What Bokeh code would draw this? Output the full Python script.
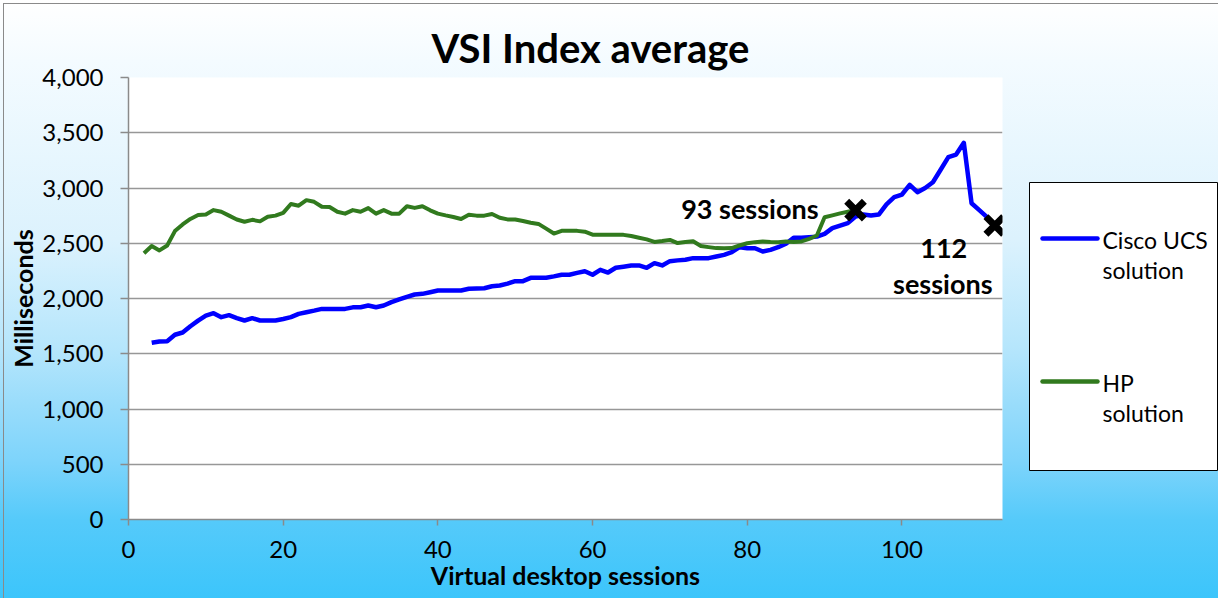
from bokeh.plotting import figure
from bokeh.models import Range1d, NumeralTickFormatter, FixedTicker, Row
from bokeh.embed import file_html
from bokeh.resources import INLINE
from bokeh.core.properties import value

# ---------------- data ----------------
hp_sessions = list(range(2, 95))
hp_ms = [2410, 2475, 2435, 2480, 2610, 2670, 2720, 2755, 2760, 2800,
         2785, 2750, 2715, 2695, 2712, 2698, 2740, 2750, 2775, 2855,
         2840, 2890, 2875, 2830, 2828, 2785, 2768, 2800, 2785, 2818,
         2768, 2800, 2768, 2768, 2835, 2820, 2835, 2798, 2768, 2752,
         2738, 2720, 2758, 2750, 2750, 2765, 2730, 2716, 2715, 2702,
         2686, 2675, 2632, 2588, 2612, 2614, 2612, 2605, 2578, 2576,
         2576, 2576, 2576, 2565, 2550, 2535, 2512, 2520, 2530, 2502,
         2512, 2518, 2475, 2465, 2456, 2455, 2456, 2480, 2500, 2510,
         2516, 2512, 2510, 2515, 2512, 2516, 2540, 2570, 2735, 2752,
         2770, 2785, 2800]

cisco_sessions = list(range(3, 113))
cisco_ms = [1599, 1611, 1614, 1672, 1692, 1749, 1800, 1845, 1867, 1831,
            1849, 1822, 1801, 1822, 1801, 1801, 1801, 1815, 1831, 1861,
            1876, 1890, 1906, 1906, 1906, 1906, 1920, 1921, 1937, 1921,
            1937, 1967, 1991, 2015, 2036, 2042, 2057, 2072, 2072, 2072,
            2072, 2088, 2090, 2093, 2111, 2118, 2135, 2157, 2157, 2187,
            2187, 2187, 2200, 2215, 2215, 2232, 2247, 2215, 2260, 2235,
            2278, 2288, 2299, 2299, 2278, 2320, 2299, 2338, 2345, 2350,
            2365, 2365, 2365, 2380, 2395, 2419, 2464, 2455, 2455, 2425,
            2440, 2464, 2495, 2549, 2549, 2555, 2560, 2585, 2637, 2660,
            2682, 2742, 2760, 2751, 2760, 2851, 2917, 2941, 3029, 2962,
            3000, 3052, 3165, 3279, 3303, 3409, 2862, 2800, 2736, 2661]

series_names = ["Cisco UCS solution", "HP solution"]
x_ticks = [0, 20, 40, 60, 80, 100]
y_ticks = [0, 500, 1000, 1500, 2000, 2500, 3000, 3500, 4000]
marker_sessions = [hp_sessions[-1], cisco_sessions[-1]]
marker_ms = [hp_ms[-1], cisco_ms[-1]]

BLUE = "#0000ff"
GREEN = "#317a1e"
FONT = "Lato"
GRAY = "#8a8a8a"

# ---------------- main figure ----------------
p = figure(width=1010, height=598, output_backend="svg", toolbar_location=None,
           x_range=Range1d(0, 113), y_range=Range1d(0, 4000),
           min_border_left=128, min_border_right=8, min_border_top=77, min_border_bottom=79,
           frame_align=False)
p.border_fill_alpha = 0
p.background_fill_color = "white"
p.outline_line_color = None

p.title.text = "VSI Index average"
p.title.align = "left"
p.title.offset = 303
p.title.text_font = FONT
p.title.text_font_style = "bold"
p.title.text_font_size = "40px"
p.title.text_color = "black"
p.title.standoff = 12

p.xaxis.ticker = FixedTicker(ticks=x_ticks)
p.yaxis.ticker = FixedTicker(ticks=y_ticks)
p.yaxis.formatter = NumeralTickFormatter(format="0,0")
for ax in (p.xaxis, p.yaxis):
    ax.axis_line_color = GRAY
    ax.axis_line_width = 1.5
    ax.major_tick_line_color = GRAY
    ax.major_tick_line_width = 1.5
    ax.major_tick_in = 0
    ax.minor_tick_line_color = None
    ax.major_label_text_font = FONT
    ax.major_label_text_font_size = "24px"
    ax.major_label_text_color = "black"
    ax.axis_label_text_font = FONT
    ax.axis_label_text_font_style = "bold"
    ax.axis_label_text_font_size = "25px"
    ax.axis_label_text_color = "black"
p.yaxis.major_tick_out = 8
p.yaxis.major_label_standoff = 17
p.xaxis.major_tick_out = 6
p.xaxis.major_label_standoff = 15
p.xaxis.axis_label = "Virtual desktop sessions"
p.yaxis.axis_label = "Milliseconds"
p.xaxis.axis_label_standoff = -1
p.yaxis.axis_label_standoff = 1

p.xgrid.grid_line_color = None
p.ygrid.grid_line_color = "#979797"
p.ygrid.grid_line_width = 1.6

p.line(cisco_sessions, cisco_ms, line_color=BLUE, line_width=4.5, line_join="round")
p.line(hp_sessions, hp_ms, line_color=GREEN, line_width=4, line_join="round")
p.scatter(marker_sessions, marker_ms, marker="x", size=25, line_width=7, line_color="black")

ann_font = value(FONT)
p.text([marker_sessions[0]], [marker_ms[0]], text=["93 sessions"], x_offset=-37, y_offset=-2,
       text_align="right", text_baseline="middle", text_font=ann_font,
       text_font_style="bold", text_font_size="27px", text_color="black")
p.text([marker_sessions[1]], [marker_ms[1]], text=["112"], x_offset=-51, y_offset=23,
       text_align="center", text_baseline="middle", text_font=ann_font,
       text_font_style="bold", text_font_size="27px", text_color="black")
p.text([marker_sessions[1]], [marker_ms[1]], text=["sessions"], x_offset=-52, y_offset=58,
       text_align="center", text_baseline="middle", text_font=ann_font,
       text_font_style="bold", text_font_size="27px", text_color="black")

# ---------------- legend panel ----------------
leg = figure(width=208, height=598, output_backend="svg", toolbar_location=None,
             x_range=Range1d(0, 188), y_range=Range1d(288, 0),
             x_axis_type=None, y_axis_type=None,
             min_border_left=19, min_border_right=1, min_border_top=182, min_border_bottom=128,
             frame_align=False)
leg.border_fill_alpha = 0
leg.background_fill_color = "white"
leg.outline_line_color = "black"
leg.outline_line_width = 1
leg.grid.visible = False

item_tops = [56, 199]
colors = [BLUE, GREEN]
for name, top, c in zip(series_names, item_tops, colors):
    first, second = name.rsplit(" ", 1)
    leg.segment(x0=[13], y0=[top], x1=[68], y1=[top], line_color=c, line_width=4.5, line_cap="round")
    leg.text([73, 73], [top + 1, top + 31], text=[first, second], text_align="left",
             text_baseline="middle", text_font=value(FONT), text_font_size="23px",
             text_color="black")

bg = ("linear-gradient(#8a8a8a, #8a8a8a) 3px 3px / 1px 100% no-repeat, "
      "linear-gradient(#8a8a8a, #8a8a8a) 3px 3px / 100% 1px no-repeat, "
      "linear-gradient(to bottom, #ffffff 0%, #f4fbff 10%, #dcf2fd 40%, "
      "#b6e6fc 58%, #98dcfb 68%, #7ed4fb 77%, #55cafa 87%, #3cc5fb 100%)")
layout = Row(children=[p, leg], spacing=0, styles={"background": bg})

open("out.html", "w").write(file_html(layout, INLINE))
